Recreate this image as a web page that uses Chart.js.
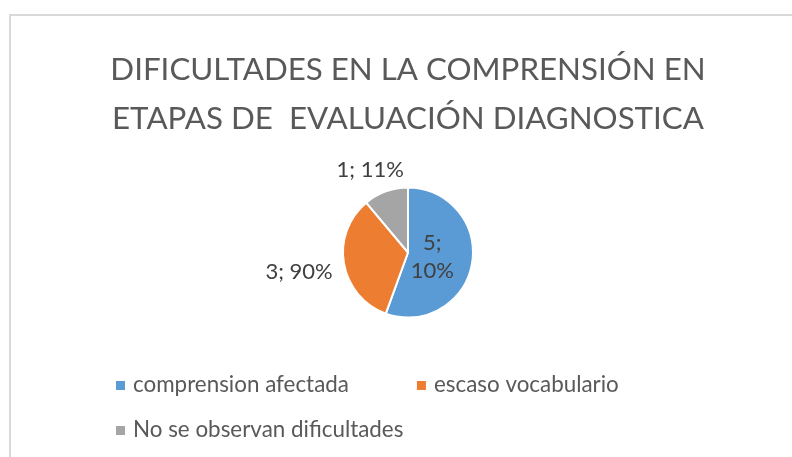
<!DOCTYPE html>
<html><head><meta charset="utf-8">
<script src="https://cdn.jsdelivr.net/npm/chart.js@4.4.0/dist/chart.umd.min.js"></script>
<style>
html,body{margin:0;padding:0;background:#fff;overflow:hidden;width:792px;height:457px;}
#frame{position:absolute;left:9px;top:14px;width:810px;height:470px;border:2px solid #d9d9d9;box-sizing:border-box;}
#c{position:absolute;left:11px;top:16px;}
</style></head><body>
<div id="frame"></div>
<canvas id="c" width="794" height="441"></canvas>
<script>
const titleLines = ['DIFICULTADES EN LA COMPRENSIÓN EN', 'ETAPAS DE  EVALUACIÓN DIAGNOSTICA'];
const categories = ['comprension afectada', 'escaso vocabulario', 'No se observan dificultades'];
const values = [5, 3, 1];
const percentLabels = ['10%', '90%', '11%'];
const sliceColors = ['#5B9BD5', '#ED7D31', '#A5A5A5'];

const FONT = 'Lato';

const dataLabelPlugin = {
  id: 'dataLabels',
  afterDatasetsDraw(chart) {
    const ctx = chart.ctx;
    const meta = chart.getDatasetMeta(0);
    const size = 22;
    ctx.save();
    ctx.font = size + 'px ' + FONT;
    ctx.fillStyle = '#404040';
    ctx.textAlign = 'center';
    ctx.textBaseline = 'middle';
    meta.data.forEach((arc, i) => {
      const p = arc.getProps(['x', 'y', 'startAngle', 'endAngle', 'outerRadius'], true);
      const mid = (p.startAngle + p.endAngle) / 2;
      const dx = Math.cos(mid), dy = Math.sin(mid);
      const R = p.outerRadius;
      if (p.endAngle - p.startAngle > Math.PI) {
        const lines = [values[i] + ';', percentLabels[i]];
        const cx = p.x + dx * R * 0.38, cy = p.y + dy * R * 0.38;
        const lh = 28;
        lines.forEach((t, k) => ctx.fillText(t, cx, cy + (k - (lines.length - 1) / 2) * lh));
      } else {
        const t = values[i] + '; ' + percentLabels[i];
        const w = ctx.measureText(t).width, h = size;
        const g = 12;
        const cx = p.x + dx * (R + g) + dx * w / 2;
        const cy = p.y + dy * (R + g) + dy * h / 2 + (dy > 0 ? 4 : 0);
        ctx.fillText(t, cx, cy);
      }
    });
    ctx.restore();
  }
};

const legendPlugin = {
  id: 'bottomLegend',
  afterDraw(chart) {
    const ctx = chart.ctx;
    const size = 22.4;
    const box = 9, boxGap = 8, itemGap = 68;
    const startX = 105, rowY = [369, 414];
    const maxRight = chart.width - 40;
    ctx.save();
    ctx.font = size + 'px ' + FONT;
    ctx.textBaseline = 'middle';
    ctx.textAlign = 'left';
    let x = startX, row = 0;
    chart.data.labels.forEach((lab, i) => {
      const tw = ctx.measureText(lab).width;
      const iw = box + boxGap + tw;
      if (x !== startX && x + iw > maxRight) { row++; x = startX; }
      const y = rowY[Math.min(row, rowY.length - 1)];
      ctx.fillStyle = chart.data.datasets[0].backgroundColor[i];
      ctx.fillRect(x, Math.round(y - box / 2), box, box);
      ctx.fillStyle = '#595959';
      ctx.fillText(lab, x + box + boxGap, y);
      x += iw + itemGap;
    });
    ctx.restore();
  }
};

new Chart(document.getElementById('c'), {
  type: 'pie',
  data: {
    labels: categories,
    datasets: [{
      data: values,
      backgroundColor: sliceColors,
      borderColor: '#ffffff',
      borderWidth: 2,
      radius: 65
    }]
  },
  options: {
    responsive: false,
    animation: false,
    events: [],
    layout: { padding: { top: 0, left: 0, right: 0, bottom: 128 } },
    plugins: {
      legend: { display: false },
      tooltip: { enabled: false },
      title: {
        display: true,
        text: titleLines,
        color: '#595959',
        font: { family: FONT, size: 31.3, weight: 'normal', lineHeight: 49 / 31.3 },
        padding: { top: 29, bottom: 33 }
      }
    }
  },
  plugins: [dataLabelPlugin, legendPlugin]
});
</script>
</body></html>
